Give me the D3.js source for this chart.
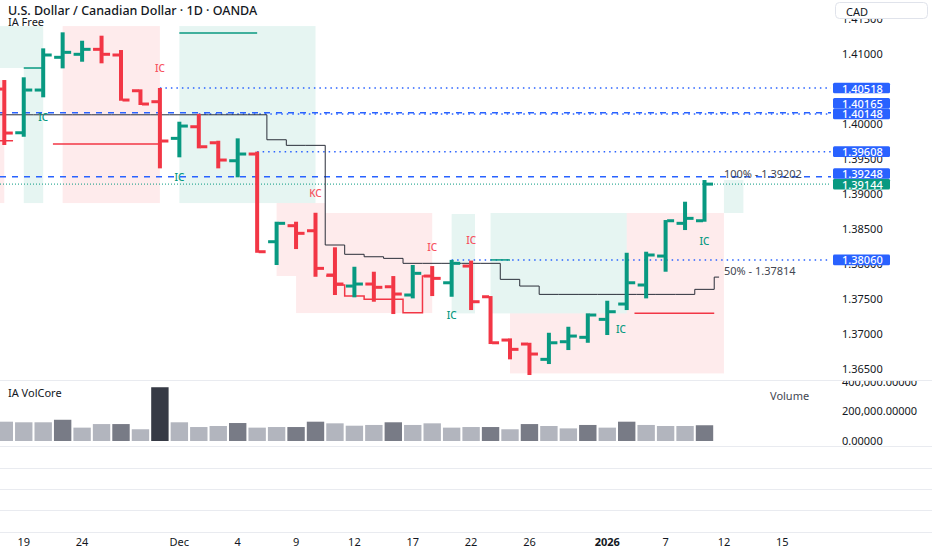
<!DOCTYPE html>
<html><head><meta charset="utf-8">
<script src="https://cdn.jsdelivr.net/npm/d3@7"></script>
<style>html,body{margin:0;padding:0;background:#fff;} svg{display:block;font-family:"Noto Sans",sans-serif;}</style>
</head><body><svg id="c" width="932" height="550"></svg>
<script>
// ---------------- DATA ----------------
const barDates = ["2025-11-18","2025-11-19","2025-11-20","2025-11-21","2025-11-24","2025-11-25","2025-11-26","2025-11-27","2025-11-28",
"2025-12-01","2025-12-02","2025-12-03","2025-12-04","2025-12-05","2025-12-08","2025-12-09","2025-12-10","2025-12-11","2025-12-12",
"2025-12-15","2025-12-16","2025-12-17","2025-12-18","2025-12-19","2025-12-22","2025-12-23","2025-12-24","2025-12-26",
"2025-12-29","2025-12-30","2025-12-31","2026-01-02","2026-01-05","2026-01-06","2026-01-07","2026-01-08","2026-01-09"];
const futureDates = ["2026-01-12","2026-01-13","2026-01-14","2026-01-15","2026-01-16","2026-01-19","2026-01-20","2026-01-21"];
const opens  = [1.40503,1.39878,1.40489,1.40957,1.41000,1.41071,1.40990,1.40479,1.40322,1.39798,1.39964,1.39735,1.39478,1.39574,1.38320,1.38549,1.38477,1.37844,1.37686,1.37715,1.37676,1.37558,1.37829,1.37733,1.37972,1.37533,1.36914,1.36857,1.36638,1.36890,1.36953,1.37210,1.37429,1.37701,1.38115,1.38583,1.38620];
const highs  = [1.40632,1.40671,1.41085,1.41314,1.41194,1.41266,1.41061,1.40499,1.40518,1.40036,1.40148,1.39764,1.39798,1.39608,1.38606,1.38606,1.38734,1.38240,1.37962,1.37891,1.37829,1.37987,1.37972,1.38060,1.38050,1.37543,1.36938,1.36875,1.37018,1.37104,1.37296,1.37476,1.38162,1.38177,1.38630,1.38892,1.39202];
const lows   = [1.39703,1.39821,1.40385,1.40799,1.40894,1.40871,1.40336,1.40275,1.39369,1.39527,1.39655,1.39369,1.39241,1.38162,1.37987,1.38215,1.37819,1.37558,1.37525,1.37462,1.37286,1.37510,1.37543,1.37533,1.37343,1.36857,1.36638,1.36414,1.36571,1.36771,1.36875,1.36986,1.37343,1.37510,1.37891,1.38487,1.38606];
const closes = [1.39874,1.40489,1.40990,1.41028,1.41071,1.41000,1.40346,1.40289,1.39760,1.39974,1.39678,1.39488,1.39574,1.38177,1.38583,1.38440,1.37939,1.37715,1.37715,1.37668,1.37572,1.37868,1.37796,1.38011,1.37462,1.36875,1.36781,1.36714,1.36875,1.36971,1.37272,1.37319,1.37733,1.38130,1.38620,1.38654,1.39144];
const volumes = [130000,126000,126000,143000,90000,114000,114000,79000,362000,126000,94000,101000,121000,90000,94000,94000,130000,119000,103000,108000,126000,108000,119000,90000,94000,94000,79000,114000,101000,85000,108000,90000,130000,108000,101000,101000,106000];
const volClass = ["n","n","n","h","n","n","h","n","x","n","n","n","h","n","n","h","h","n","n","n","h","n","n","n","n","h","n","h","n","n","h","n","h","n","n","n","h"];
const midStep = [1.40135,1.40135,1.40135,1.40135,1.40135,1.40135,1.40135,1.40135,1.40135,1.40135,1.40135,1.40135,1.40135,1.40135,1.39778,1.39698,1.39698,1.38273,1.38140,1.38105,1.38082,1.38011,1.38011,1.38011,1.38011,1.38011,1.37782,1.37686,1.37567,1.37567,1.37567,1.37567,1.37567,1.37567,1.37567,1.37567,1.37639];
const midStepEnd = 1.37814;
// lower step line vertices: [index, price]
const lowerStep = [[16.55,1.37829],[17,1.37700],[17.5,1.37543],[18.5,1.37496],[20.5,1.37304],[21.5,1.37829],[22,1.37829]];
const priceTicks = [1.415,1.410,1.405,1.400,1.395,1.390,1.385,1.380,1.375,1.370,1.365];
const volTicks = [400000,200000,0];
const timeTickDates = ["2025-11-19","2025-11-24","2025-12-01","2025-12-04","2025-12-09","2025-12-12","2025-12-17","2025-12-22","2025-12-26","2026-01-02","2026-01-07","2026-01-12","2026-01-15"];
const timeTickLabels = ["19","24","Dec","4","9","12","17","22","26","2026","7","12","15"];
// boxes: [fromIndex, toIndex, topPrice, bottomPrice]
const greenBoxes = [[-1,2,1.41404,1.40804],[1,2,1.40804,1.38873],[9,16,1.41404,1.38873],[23,24.2,1.38716,1.37295],[25,32,1.38731,1.37295],[37,38,1.39202,1.38731]];
const pinkBoxes  = [[-1,0,1.40632,1.38873],[3,8,1.41404,1.38873],[14,16.5,1.38873,1.37830],[15,16.5,1.37830,1.37300],[16.5,22,1.38731,1.37300],[26,32,1.37295,1.36437],[32,37,1.38731,1.36437]];
// short segments: [fromIndex, toIndex, price]
const greenSegs = [[9,13,1.41304],[1,2,1.40804],[25,26,1.38060]];
const redSegs   = [[-1,0.45,1.39764],[2.5,8,1.39717],[32.4,36.5,1.37296]];
// swing-level dotted lines: [fromIndex, price]
const dottedLevels = [[8,1.40518],[10,1.40148],[13,1.39608],[23,1.38060]];
const dashedLevels = [1.40165,1.39248];
const lastPrice = 1.39144;
// markers: [index, price, text, kind]
const markers = [[8,1.40804,"IC","r"],[2,1.40103,"IC","g"],[9,1.39245,"IC","g"],[16,1.39016,"KC","r"],[22,1.38248,"IC","r"],[24,1.38344,"IC","r"],[23,1.37272,"IC","g"],[31.7,1.37071,"IC","g"],[36,1.38334,"IC","g"]];
const fibLabels = [["100% - 1.39202",1.39202],["50% - 1.37814",1.37814]];
const axisLabels = [[1.40518,"b"],[1.40165,"b"],[1.40148,"b"],[1.39608,"b"],[1.39248,"b"],[1.39144,"g"],[1.38060,"b"]];

// ---------------- SCALES ----------------
const allDates = barDates.concat(futureDates);
const xi = d3.scaleLinear().domain([0,1]).range([4.3,23.75]);
const xd = d => xi(allDates.indexOf(d));
const y = d3.scaleLinear().domain([1.365,1.41]).range([369,54.3]);
const yv = d3.scaleLinear().domain([0,400000]).range([441,381.6]);
const PW = 831;
const RED="#f23645", GREEN="#089981", BLUE="#2962ff", TXT="#131722";

const svg = d3.select("#c");
const defs = svg.append("defs");
defs.append("clipPath").attr("id","mainClip").append("rect").attr("x",0).attr("y",0).attr("width",PW).attr("height",380);
defs.append("clipPath").attr("id","volClip").append("rect").attr("x",0).attr("y",381).attr("width",PW).attr("height",65);
defs.append("clipPath").attr("id","axClip").append("rect").attr("x",PW).attr("y",0).attr("width",932-PW).attr("height",380);
defs.append("clipPath").attr("id","vaxClip").append("rect").attr("x",PW).attr("y",381).attr("width",932-PW).attr("height",65);

// pane separators
svg.append("g").selectAll("line").data([380.5,446.5,468.5,489.5,510.5,532.5]).join("line")
  .attr("x1",0).attr("x2",932).attr("y1",d=>d).attr("y2",d=>d).attr("stroke","#e9ebf0").attr("stroke-width",1);

const main = svg.append("g").attr("clip-path","url(#mainClip)");
// boxes
main.append("g").selectAll("rect").data(greenBoxes).join("rect")
  .attr("x",d=>xi(d[0])).attr("width",d=>xi(d[1])-xi(d[0]))
  .attr("y",d=>y(d[2])).attr("height",d=>y(d[3])-y(d[2])).attr("fill","rgba(8,153,129,0.1)");
main.append("g").selectAll("rect").data(pinkBoxes).join("rect")
  .attr("x",d=>xi(d[0])).attr("width",d=>xi(d[1])-xi(d[0]))
  .attr("y",d=>y(d[2])).attr("height",d=>y(d[3])-y(d[2])).attr("fill","rgba(242,54,69,0.1)");

// level lines
main.append("g").selectAll("line").data(dashedLevels).join("line")
  .attr("x1",0).attr("x2",PW).attr("y1",d=>y(d)).attr("y2",d=>y(d))
  .attr("stroke",BLUE).attr("stroke-width",1.5).attr("stroke-dasharray","6,6");
main.append("g").selectAll("line").data(dottedLevels).join("line")
  .attr("x1",d=>xi(d[0])).attr("x2",PW).attr("y1",d=>y(d[1])).attr("y2",d=>y(d[1]))
  .attr("stroke",BLUE).attr("stroke-width",1.5).attr("stroke-dasharray","1.5,4");
main.append("line").attr("x1",0).attr("x2",PW).attr("y1",y(lastPrice)).attr("y2",y(lastPrice))
  .attr("stroke",GREEN).attr("stroke-width",1).attr("stroke-dasharray","1,2");

// segments
main.append("g").selectAll("line").data(greenSegs).join("line")
  .attr("x1",d=>xi(d[0])).attr("x2",d=>xi(d[1])).attr("y1",d=>y(d[2])).attr("y2",d=>y(d[2]))
  .attr("stroke",GREEN).attr("stroke-width",1.5);
main.append("g").selectAll("line").data(redSegs).join("line")
  .attr("x1",d=>xi(d[0])).attr("x2",d=>xi(d[1])).attr("y1",d=>y(d[2])).attr("y2",d=>y(d[2]))
  .attr("stroke",RED).attr("stroke-width",1.5);

// mid step line
const midPts = midStep.map((v,i)=>[i-0.5,v]);
midPts.push([midStep.length-0.5,midStepEnd],[midStep.length-0.25,midStepEnd]);
const stepLine = d3.line().x(d=>xi(d[0])).y(d=>y(d[1])).curve(d3.curveStepAfter);
main.append("path").attr("d",stepLine(midPts)).attr("fill","none").attr("stroke","#2a2e39").attr("stroke-width",1);
// lower step line
main.append("path").attr("d",stepLine(lowerStep)).attr("fill","none").attr("stroke",RED).attr("stroke-width",1.5);

// OHLC bars
const bars = main.append("g").selectAll("g").data(barDates).join("g")
  .attr("fill",(d,i)=>closes[i]>=opens[i]?GREEN:RED);
bars.append("rect").attr("x",d=>xd(d)-2).attr("width",4)
  .attr("y",(d,i)=>y(highs[i])).attr("height",(d,i)=>Math.max(1,y(lows[i])-y(highs[i])));
bars.append("rect").attr("x",d=>xd(d)-8.5).attr("width",7).attr("y",(d,i)=>y(opens[i])-1.5).attr("height",3);
bars.append("rect").attr("x",d=>xd(d)+1.5).attr("width",7).attr("y",(d,i)=>y(closes[i])-1.5).attr("height",3);

// markers
main.append("g").selectAll("text").data(markers).join("text")
  .attr("x",d=>xi(d[0])).attr("y",d=>y(d[1])).attr("text-anchor","middle").attr("dominant-baseline","central")
  .attr("font-size",10).attr("font-weight",500).attr("fill",d=>d[3]==="g"?GREEN:"#f7525f").text(d=>d[2]);
// fib labels
main.append("g").selectAll("text").data(fibLabels).join("text")
  .attr("x",xi(barDates.length)).attr("y",d=>y(d[1])-2).attr("font-size",11).attr("fill","#434651").text(d=>d[0]);

// headers
svg.append("text").attr("x",8).attr("y",15).attr("font-size",12.5).attr("font-weight",500).attr("fill",TXT)
  .text("U.S. Dollar / Canadian Dollar · 1D · OANDA");
svg.append("text").attr("x",8).attr("y",25.5).attr("font-size",11).attr("fill",TXT).text("IA Free");

// price axis (tick labels fully hidden behind a price tag are skipped)
const tagY = axisLabels.map(d=>y(d[0]));
const visibleTicks = priceTicks.filter(t=>!tagY.some(v=>Math.abs(v-y(t))<2));
const yAxis = d3.axisRight(y).tickValues(visibleTicks).tickFormat(d3.format(".5f")).tickSize(0).tickPadding(0);
const gy = svg.append("g").attr("clip-path","url(#axClip)").append("g").attr("transform",`translate(842,0)`).call(yAxis);
gy.select(".domain").remove();
gy.selectAll("text").attr("font-size",11).attr("fill",TXT).attr("font-family","Noto Sans");

// axis price tags with collision handling
const lab = axisLabels.map(d=>({p:d[0],k:d[1],yy:y(d[0])})).sort((a,b)=>b.yy-a.yy);
let prev = Infinity;
lab.forEach(l=>{ l.yy = Math.min(l.yy, prev-10.6); prev = l.yy; });
const lg = svg.append("g").selectAll("g").data(lab).join("g");
lg.append("rect").attr("x",833).attr("width",57).attr("y",d=>d.yy-5.3).attr("height",10.6).attr("rx",1.5)
  .attr("fill",d=>d.k==="g"?GREEN:BLUE);
lg.append("text").attr("x",842).attr("y",d=>d.yy).attr("dominant-baseline","central").attr("font-size",11)
  .attr("font-weight",500).attr("fill","#fff").text(d=>d3.format(".5f")(d.p));

// CAD box
svg.append("rect").attr("x",835.5).attr("y",2.5).attr("width",92).attr("height",16).attr("rx",4)
  .attr("fill","#fff").attr("stroke","#e0e3eb");
svg.append("text").attr("x",846).attr("y",11).attr("dominant-baseline","central").attr("font-size",11).attr("fill",TXT).text("CAD");

// volume pane
const vol = svg.append("g").attr("clip-path","url(#volClip)");
const volFill = {n:"#b2b5be", h:"#787b86", x:"#363a45"};
vol.selectAll("rect").data(barDates).join("rect")
  .attr("x",d=>xd(d)-8.7).attr("width",17.4)
  .attr("y",(d,i)=>yv(volumes[i])).attr("height",(d,i)=>yv(0)-yv(volumes[i]))
  .attr("fill",(d,i)=>volFill[volClass[i]]);
svg.append("text").attr("x",8).attr("y",392).attr("dominant-baseline","central").attr("font-size",11).attr("fill",TXT).text("IA VolCore");
svg.append("text").attr("x",770).attr("y",395).attr("dominant-baseline","central").attr("font-size",11).attr("fill","#434651").text("Volume");
const vAxis = d3.axisRight(yv).tickValues(volTicks).tickFormat(d3.format(",.5f")).tickSize(0).tickPadding(0);
const gv = svg.append("g").attr("clip-path","url(#vaxClip)").append("g").attr("transform","translate(842,0)").call(vAxis);
gv.select(".domain").remove();
gv.selectAll("text").attr("font-size",11).attr("fill",TXT).attr("font-family","Noto Sans");

// time axis
svg.append("g").selectAll("text").data(timeTickDates).join("text")
  .attr("x",d=>xd(d)).attr("y",541).attr("text-anchor","middle").attr("dominant-baseline","central")
  .attr("font-size",11).attr("fill",TXT)
  .attr("font-weight",(d,i)=>timeTickLabels[i]==="2026"?700:400)
  .text((d,i)=>timeTickLabels[i]);
</script></body></html>
